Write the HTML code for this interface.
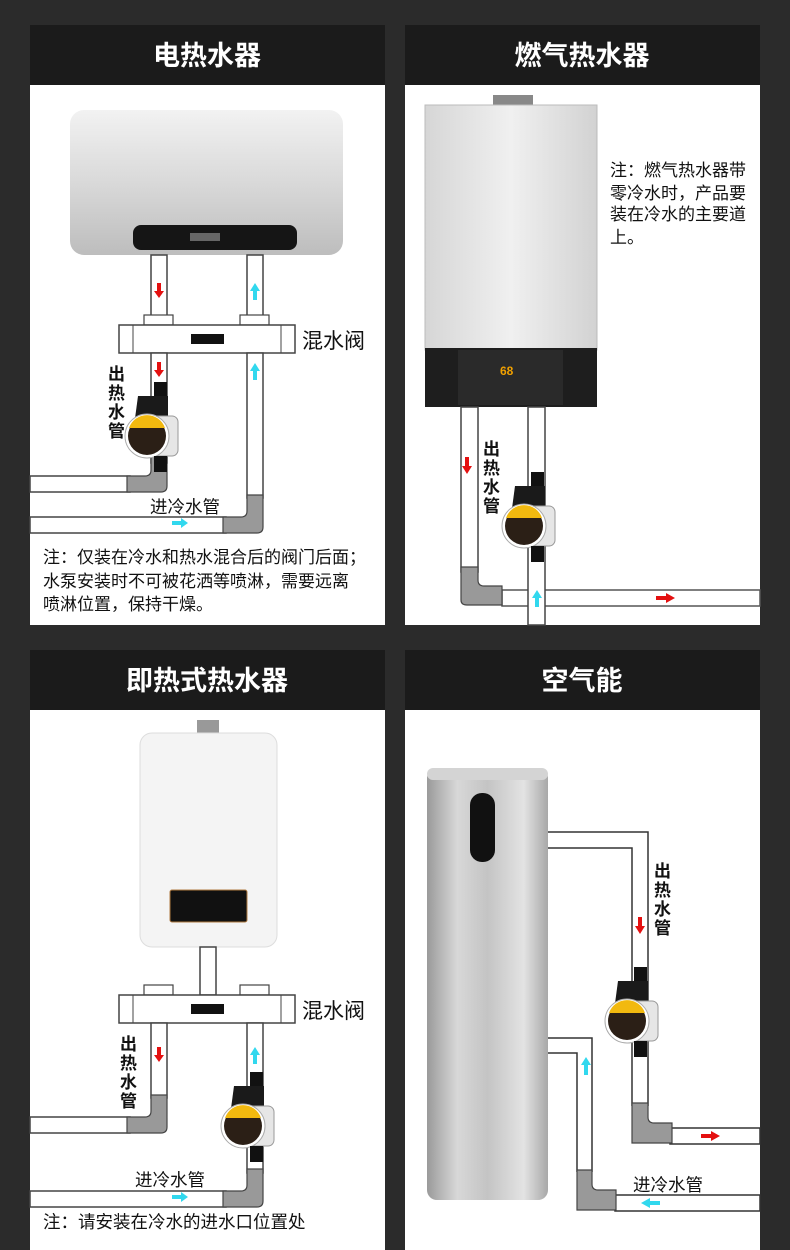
<!DOCTYPE html>
<html><head><meta charset="utf-8"><style>
html,body{margin:0;padding:0;background:#2b2b2b;}
svg{display:block;}
text{font-family:"Liberation Sans","Noto Sans CJK SC",sans-serif;}
</style></head><body>
<svg width="790" height="1250" viewBox="0 0 790 1250" xmlns="http://www.w3.org/2000/svg">
<defs>
<linearGradient id="silverH" x1="0" y1="0" x2="0" y2="1">
<stop offset="0" stop-color="#f2f2f2"/><stop offset="0.5" stop-color="#d9d9d9"/><stop offset="1" stop-color="#bdbdbd"/></linearGradient>
<linearGradient id="silverV" x1="0" y1="0" x2="1" y2="0">
<stop offset="0" stop-color="#9a9a9a"/><stop offset="0.25" stop-color="#d8d8d8"/><stop offset="0.5" stop-color="#c4c4c4"/><stop offset="0.8" stop-color="#e3e3e3"/><stop offset="1" stop-color="#a8a8a8"/></linearGradient>
<linearGradient id="gasG" x1="0" y1="0" x2="1" y2="0">
<stop offset="0" stop-color="#d6d6d6"/><stop offset="0.5" stop-color="#f0f0f0"/><stop offset="1" stop-color="#d2d2d2"/></linearGradient>
<g id="pump">
<rect x="-6" y="0" width="13" height="14" fill="#111"/>
<path d="M-22 14 h30 v30 h-34 z" fill="#1a1a1a"/>
<rect x="-26" y="34" width="44" height="40" rx="6" fill="#e6e6e6" stroke="#999"/>
<circle cx="-13" cy="54" r="22" fill="#fff" stroke="#aaa"/>
<circle cx="-13" cy="54" r="19" fill="#2b1f16"/>
<path d="M-31 46 a19 19 0 0 1 36 0 z" fill="#f2b90f"/>
<rect x="-6" y="74" width="13" height="16" fill="#111"/>
</g>
</defs>
<rect width="790" height="1250" fill="#2b2b2b"/>

<!-- PANEL 1 -->
<rect x="30" y="25" width="355" height="600" fill="#fff"/>
<rect x="30" y="25" width="355" height="60" fill="#1b1b1b"/>
<text x="207" y="65" fill="#fff" font-size="27" font-weight="bold" text-anchor="middle">电热水器</text>
<rect x="70" y="110" width="273" height="145" rx="14" fill="url(#silverH)"/>
<rect x="133" y="225" width="164" height="25" rx="8" fill="#151515"/>
<rect x="190" y="233" width="30" height="8" fill="#666"/>
<rect x="151" y="255" width="16" height="70" fill="#fff" stroke="#444" stroke-width="1.5"/>
<rect x="247" y="255" width="16" height="70" fill="#fff" stroke="#444" stroke-width="1.5"/>
<rect x="144" y="315" width="29" height="10" fill="#fff" stroke="#444" stroke-width="1.2"/>
<rect x="240" y="315" width="29" height="10" fill="#fff" stroke="#444" stroke-width="1.2"/>
<rect x="119" y="325" width="176" height="28" fill="#fff" stroke="#444" stroke-width="1.5"/>
<line x1="133" y1="325" x2="133" y2="353" stroke="#444"/><line x1="281" y1="325" x2="281" y2="353" stroke="#444"/>
<rect x="191" y="334" width="33" height="10" fill="#111"/>
<text x="302" y="348" font-size="21" fill="#111">混水阀</text>
<rect x="30" y="476" width="100" height="16" fill="#fff" stroke="#444" stroke-width="1.5"/>
<rect x="151" y="353" width="16" height="110" fill="#fff" stroke="#444" stroke-width="1.5"/>
<path d="M127 492 V476 h18 q6 0 6 -6 v-14 h16 v30 q0 6 -6 6 z" fill="#999" stroke="#444" stroke-width="1.2"/>
<rect x="30" y="517" width="196" height="16" fill="#fff" stroke="#444" stroke-width="1.5"/>
<rect x="247" y="353" width="16" height="145" fill="#fff" stroke="#444" stroke-width="1.5"/>
<path d="M223 533 V517 h18 q6 0 6 -6 v-16 h16 v32 q0 6 -6 6 z" fill="#999" stroke="#444" stroke-width="1.2"/>
<use href="#pump" x="160" y="382"/>
<text font-size="17" font-weight="bold" fill="#111"><tspan x="108" y="380">出</tspan><tspan x="108" y="399">热</tspan><tspan x="108" y="418">水</tspan><tspan x="108" y="437">管</tspan></text>
<text x="150" y="513" font-size="17.5" fill="#111">进冷水管</text>
<path d="M157 283 h4 v8 h3 l-5 7 l-5 -7 h3z" fill="#e41010"/>
<path d="M157 362 h4 v8 h3 l-5 7 l-5 -7 h3z" fill="#e41010"/>
<path d="M253 300 h4 v-9 h3 l-5 -8 l-5 8 h3z" fill="#31d8ee"/>
<path d="M253 380 h4 v-9 h3 l-5 -8 l-5 8 h3z" fill="#31d8ee"/>
<path d="M172 521 h9 v-3 l7 5 l-7 5 v-3 h-9z" fill="#31d8ee"/>
<text font-size="17" fill="#111"><tspan x="43" y="563">注：仅装在冷水和热水混合后的阀门后面；</tspan><tspan x="43" y="587">水泵安装时不可被花洒等喷淋，需要远离</tspan><tspan x="43" y="610">喷淋位置，保持干燥。</tspan></text>

<!-- PANEL 2 -->
<rect x="405" y="25" width="355" height="600" fill="#fff"/>
<rect x="405" y="25" width="355" height="60" fill="#1b1b1b"/>
<text x="582" y="65" fill="#fff" font-size="27" font-weight="bold" text-anchor="middle">燃气热水器</text>
<rect x="493" y="95" width="40" height="12" fill="#888"/>
<rect x="425" y="105" width="172" height="245" fill="url(#gasG)" stroke="#bbb"/>
<rect x="425" y="348" width="172" height="59" fill="#1e1e1e"/>
<rect x="458" y="350" width="105" height="55" fill="#2a2a2a"/>
<text x="500" y="375" font-size="12" fill="#f0a000" font-weight="bold">68</text>
<text font-size="17" fill="#111"><tspan x="610" y="176">注：燃气热水器带</tspan><tspan x="610" y="199">零冷水时，产品要</tspan><tspan x="610" y="220">装在冷水的主要道</tspan><tspan x="610" y="243">上。</tspan></text>
<rect x="502" y="590" width="258" height="16" fill="#fff" stroke="#555" stroke-width="1.5"/>
<rect x="461" y="407" width="17" height="165" fill="#fff" stroke="#444" stroke-width="1.5"/>
<path d="M461 600 V567 h17 v13 q0 6 6 6 h18 v19 h-35 q-6 0 -6 -5z" fill="#999" stroke="#444" stroke-width="1.2"/>
<rect x="528" y="407" width="17" height="218" fill="#fff" stroke="#444" stroke-width="1.5"/>
<use href="#pump" x="537" y="472"/>
<text font-size="17" font-weight="bold" fill="#111"><tspan x="483" y="455">出</tspan><tspan x="483" y="474">热</tspan><tspan x="483" y="493">水</tspan><tspan x="483" y="512">管</tspan></text>
<path d="M465 457 h4 v9 h3 l-5 8 l-5 -8 h3z" fill="#e41010"/>
<path d="M535 607 h4 v-9 h3 l-5 -8 l-5 8 h3z" fill="#31d8ee"/>
<path d="M656 596 h10 v-3 l9 5 l-9 5 v-3 h-10z" fill="#e41010"/>

<!-- PANEL 3 -->
<rect x="30" y="650" width="355" height="600" fill="#fff"/>
<rect x="30" y="650" width="355" height="60" fill="#1b1b1b"/>
<text x="207" y="690" fill="#fff" font-size="27" font-weight="bold" text-anchor="middle">即热式热水器</text>
<rect x="197" y="720" width="22" height="14" fill="#999"/>
<rect x="140" y="733" width="137" height="214" rx="12" fill="#f4f4f4" stroke="#ddd"/>
<rect x="170" y="890" width="77" height="32" rx="2" fill="#111" stroke="#b07a40"/>
<rect x="200" y="947" width="16" height="48" fill="#fff" stroke="#444" stroke-width="1.5"/>
<rect x="144" y="985" width="29" height="10" fill="#fff" stroke="#444" stroke-width="1.2"/>
<rect x="240" y="985" width="29" height="10" fill="#fff" stroke="#444" stroke-width="1.2"/>
<rect x="119" y="995" width="176" height="28" fill="#fff" stroke="#444" stroke-width="1.5"/>
<line x1="133" y1="995" x2="133" y2="1023" stroke="#444"/><line x1="281" y1="995" x2="281" y2="1023" stroke="#444"/>
<rect x="191" y="1004" width="33" height="10" fill="#111"/>
<text x="302" y="1018" font-size="21" fill="#111">混水阀</text>
<rect x="30" y="1117" width="100" height="16" fill="#fff" stroke="#444" stroke-width="1.5"/>
<rect x="151" y="1023" width="16" height="75" fill="#fff" stroke="#444" stroke-width="1.5"/>
<path d="M127 1133 V1117 h18 q6 0 6 -6 v-16 h16 v32 q0 6 -6 6 z" fill="#999" stroke="#444" stroke-width="1.2"/>
<rect x="30" y="1191" width="196" height="16" fill="#fff" stroke="#444" stroke-width="1.5"/>
<rect x="247" y="1023" width="16" height="150" fill="#fff" stroke="#444" stroke-width="1.5"/>
<path d="M223 1207 V1191 h18 q6 0 6 -6 v-16 h16 v32 q0 6 -6 6 z" fill="#999" stroke="#444" stroke-width="1.2"/>
<use href="#pump" x="256" y="1072"/>
<text font-size="17" font-weight="bold" fill="#111"><tspan x="120" y="1050">出</tspan><tspan x="120" y="1069">热</tspan><tspan x="120" y="1088">水</tspan><tspan x="120" y="1107">管</tspan></text>
<text x="135" y="1186" font-size="17.5" fill="#111">进冷水管</text>
<path d="M157 1047 h4 v8 h3 l-5 7 l-5 -7 h3z" fill="#e41010"/>
<path d="M253 1064 h4 v-9 h3 l-5 -8 l-5 8 h3z" fill="#31d8ee"/>
<path d="M172 1195 h9 v-3 l7 5 l-7 5 v-3 h-9z" fill="#31d8ee"/>
<text x="43" y="1228" font-size="17.5" fill="#111">注：请安装在冷水的进水口位置处</text>

<!-- PANEL 4 -->
<rect x="405" y="650" width="355" height="600" fill="#fff"/>
<rect x="405" y="650" width="355" height="60" fill="#1b1b1b"/>
<text x="582" y="690" fill="#fff" font-size="27" font-weight="bold" text-anchor="middle">空气能</text>
<rect x="427" y="768" width="121" height="432" rx="10" fill="url(#silverV)"/>
<rect x="427" y="768" width="121" height="12" rx="6" fill="#d4d4d4"/>
<rect x="470" y="793" width="25" height="69" rx="12" fill="#111"/>
<path d="M548 832 H648 V1106 M548 848 H632 V1106" fill="none" stroke="#333" stroke-width="1.5"/>
<rect x="670" y="1128" width="90" height="16" fill="#fff" stroke="#333" stroke-width="1.5"/>
<path d="M632 1143 V1103 h16 v14 q0 6 6 6 h18 v20 z" fill="#999" stroke="#444" stroke-width="1.2"/>
<use href="#pump" x="640" y="967"/>
<path d="M548 1038 H592 V1172 M548 1053 H577 V1172" fill="none" stroke="#333" stroke-width="1.5"/>
<rect x="615" y="1195" width="145" height="16" fill="#fff" stroke="#333" stroke-width="1.5"/>
<path d="M577 1210 V1170 h15 v14 q0 6 6 6 h18 v20 z" fill="#999" stroke="#444" stroke-width="1.2"/>
<text font-size="17" font-weight="bold" fill="#111"><tspan x="654" y="877">出</tspan><tspan x="654" y="896">热</tspan><tspan x="654" y="915">水</tspan><tspan x="654" y="934">管</tspan></text>
<text x="633" y="1191" font-size="17.5" fill="#111">进冷水管</text>
<path d="M638 917 h4 v9 h3 l-5 8 l-5 -8 h3z" fill="#e41010"/>
<path d="M701 1134 h10 v-3 l9 5 l-9 5 v-3 h-10z" fill="#e41010"/>
<path d="M584 1075 h4 v-10 h3 l-5 -8 l-5 8 h3z" fill="#31d8ee"/>
<path d="M660 1201 h-10 v-3 l-9 5 l9 5 v-3 h10z" fill="#31d8ee"/>
</svg>
</body></html>
